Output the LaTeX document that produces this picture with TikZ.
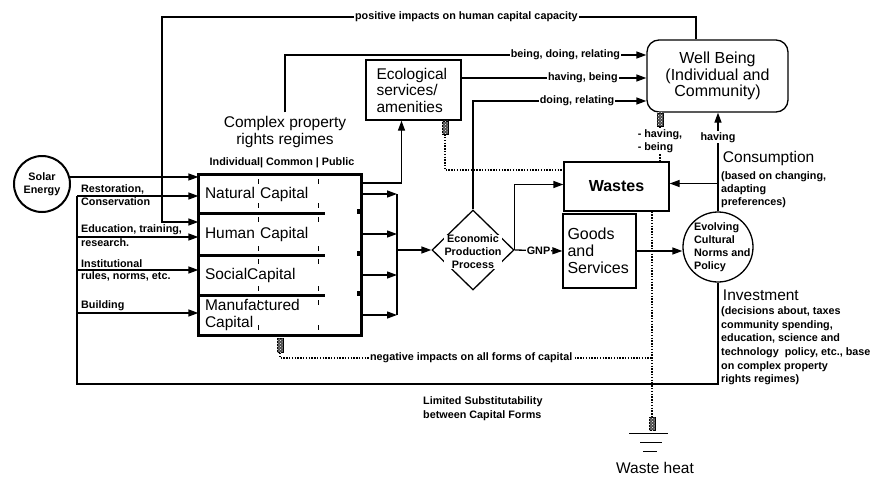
\documentclass[tikz,border=0pt]{standalone}
\usepackage{fontspec}
\setmainfont{Liberation Sans}
\usetikzlibrary{arrows.meta,shapes.geometric,patterns,fit}

\begin{document}
\begin{tikzpicture}[x=1pt,y=-1pt,line width=1.3pt,
    arr/.style={-{Triangle[length=10pt,width=7pt]}},
    neg/.style={line width=1.2pt,dash pattern=on 1.4pt off 1.4pt},
    lbl/.style={font=\fontsize{10.8}{13}\selectfont\bfseries,inner sep=1.5pt},
    onl/.style={lbl,fill=white,inner sep=1pt},
    big/.style={font=\fontsize{15.5}{17}\selectfont},
    box/.style={draw,big,align=left},
    row/.style={big,align=left,text width=150pt,inner xsep=6pt,inner ysep=0pt,minimum height=#1},
    hatch/.style={draw,line width=0.6pt,fill=black!70,postaction={pattern=crosshatch dots,pattern color=white},minimum width=6pt,minimum height=13pt,inner sep=0pt}]
        \useasboundingbox (0,0) rectangle (871,477);
        % capital stocks
        \node[row=38pt] (natural) at (280,194) {Natural Capital};
        \node[row=42pt] (human) at (280,234) {Human Capital};
        \node[row=40pt] (social) at (280,275) {SocialCapital};
        \node[row=40pt,font=\fontsize{15.5}{17.5}\selectfont] (manuf) at (280,315) {Manufactured\\Capital};
        \node[fit=(natural)(manuf),draw,line width=2.5pt,inner sep=0pt] (capital) {};
        \foreach \r in {natural,human,social}{
          \draw[line width=2.8pt] (\r.south west) -- ++(127,0);
          \draw[line width=2.5pt] ([xshift=-3pt]\r.south east) -- ++(0,-5);
        }
        \foreach \x in {258,318}
          \foreach \y in {179,203,217,246,259,286,300,325}
            \draw[line width=0.7pt] (\x,\y) -- ++(0,5);
        \node[lbl] (header) at (282,163) {Individual| Common | Public};
        \node[big,align=center] (regimes) at (285,132) {Complex property\\rights regimes};
        \node[draw,circle,minimum size=56pt,lbl,align=center,line width=2pt] (solar) at (42,184) {Solar\\Energy};

        \node[box,text width=74pt,minimum width=95pt,minimum height=60pt,font=\fontsize{15.5}{16.5}\selectfont] (eco) at (413.5,90) {Ecological\\services/\\amenities};
        \node[draw,rounded corners=12pt,minimum width=141pt,minimum height=72pt,align=center,font=\fontsize{16}{16.5}\selectfont] (wellbeing) at (717.5,76) {Well Being\\(Individual and\\Community)};
        \node[draw,minimum width=105pt,minimum height=49pt,font=\fontsize{16}{18}\selectfont\bfseries] (wastes) at (616.5,186.5) {Wastes};
        \node[box,text width=64pt,inner xsep=4.5pt,minimum height=74pt,font=\fontsize{16}{17}\selectfont] (goods) at (599.5,251) {Goods\\and\\Services};
        \node[draw,diamond,minimum width=82pt,minimum height=80pt,inner sep=0pt] (econ) at (473,250) {};
        \node[lbl,align=center,fill=white,inner sep=0.5pt] (econtext) at (473,252) {Economic\\Production\\Process};
        \node[draw,circle,minimum size=70pt,inner sep=0pt] (evolving) at (718,247) {};
        \node[lbl,align=left,anchor=west] (evotext) at (692,247) {Evolving\\Cultural\\Norms and\\Policy};

        \node[big,anchor=west] (consump) at (719,158) {Consumption};
        \node[lbl,align=left,anchor=north west] (consumpnote) at (consump.south west) {(based on changing,\\adapting\\preferences)};
        \node[big,anchor=west] (invest) at (719,295) {Investment};
        \node[lbl,align=left,anchor=north west,font=\fontsize{10.8}{13.7}\selectfont\bfseries] (investnote) at (invest.south west) {(decisions about, taxes\\community spending,\\education, science and\\technology\ \ policy, etc., base\\on complex property\\rights regimes)};
        \node[lbl,align=left,anchor=north west,font=\fontsize{10.8}{14}\selectfont\bfseries] (limited) at (421,395) {Limited Substitutability\\between Capital Forms};
        \node[big] (wasteheat) at (655,468) {Waste heat};

        % inputs to capital
        \coordinate (in1) at (77,196);
        \coordinate (in2) at (77,237);
        \coordinate (in3) at (77,270);
        \coordinate (in4) at (77,313);
        \coordinate (loopbl) at (77,384);
        \draw[arr] (solar.14) -- (solar.14 -| natural.west);
        \draw[arr] (in1) node[lbl,anchor=south west,xshift=2pt]{Restoration,} node[lbl,anchor=north west,xshift=2pt]{Conservation} -- (in1 -| natural.west);
        \draw[arr] (in2) node[lbl,anchor=south west,xshift=2pt]{Education, training,} node[lbl,anchor=north west,xshift=2pt]{research.} -- (in2 -| human.west);
        \draw[arr] (in3) node[lbl,anchor=south west,xshift=2pt]{Institutional} node[lbl,anchor=north west,xshift=2pt]{rules, norms, etc.} -- (in3 -| social.west);
        \draw[arr] (in4) node[lbl,anchor=south west,xshift=2pt]{Building} -- (in4 -| manuf.west);
        \draw (evolving.south) |- (loopbl) -- (in1);

        \coordinate (pos1) at (162,17);
        \coordinate (pos2) at (162,222);
        \draw[arr] ([xshift=-21.5pt]wellbeing.north) |- node[onl,pos=0.715]{positive impacts on human capital capacity} (pos1) -- (pos2) -- (pos2 -| human.west);
        \draw[arr] (regimes.north) |- node[onl,pos=0.888]{being, doing, relating} ([yshift=21pt]wellbeing.west);
        \draw[arr] ([yshift=12pt]eco.east) -- node[onl,pos=0.656]{having, being} ([yshift=12pt]eco.east -| wellbeing.west);
        \draw[arr] (econ.north) |- node[onl,pos=0.8]{doing, relating} ([yshift=-25pt]wellbeing.west);
        \draw[arr] ([yshift=11pt]natural.east) -| ([xshift=-12pt]eco.south);

        % outputs
        \coordinate (bus) at (397,250);
        \foreach \r in {natural,human,social,manuf}
          \draw[arr] (\r.east) -- (\r.east -| bus);
        \draw (natural.east -| bus) -- (manuf.east -| bus);
        \draw[arr] (bus) -- (econ.west);
        \draw[arr] (econ.east) -- node[onl]{GNP} (goods.west);
        \draw[arr] (econ.east) |- ([yshift=2pt]wastes.west);
        \draw[arr] (goods.east) -- (goods.east -| evolving.west);
        \draw[arr] (evolving.north) -- node[onl,pos=0.75]{having} (evolving.north |- wellbeing.south);
        \draw[arr] ([yshift=3pt]evolving.north |- wastes.east) -- ([yshift=3pt]wastes.east);

        % negative impacts
        \node[hatch,anchor=north] (ecohatch) at ([xshift=31.5pt]eco.south) {};
        \draw[neg] (ecohatch.south) |- ([yshift=16.5pt]wastes.west);
        \node[hatch,anchor=north,minimum height=14pt] (caphatch) at ([yshift=-1.5pt]capital.south) {};
        \node[hatch] (heathatch) at (652,423.5) {};
        \coordinate (negjoin) at (652,358);
        \draw[neg] (caphatch.south) |- node[onl,pos=0.757]{negative impacts on all forms of capital} (negjoin);
        \draw[neg] ([xshift=35.5pt]wastes.south) -- (heathatch.north);
        \draw ([yshift=-3pt]heathatch.south) +(-23,0) -- +(16,0);
        \draw ([yshift=-12pt]heathatch.south) +(-12,0) -- +(10,0);
        \draw ([yshift=-21pt]heathatch.south) +(-9,0) -- +(5,0);
        \node[hatch,anchor=north] (wbhatch) at ([xshift=-57.5pt]wellbeing.south) {};
        \draw[neg] (wbhatch.south |- wastes.north) -- node[onl,align=left,pos=0.57]{- having,\\- being} (wbhatch.south);
\end{tikzpicture}
\end{document}
